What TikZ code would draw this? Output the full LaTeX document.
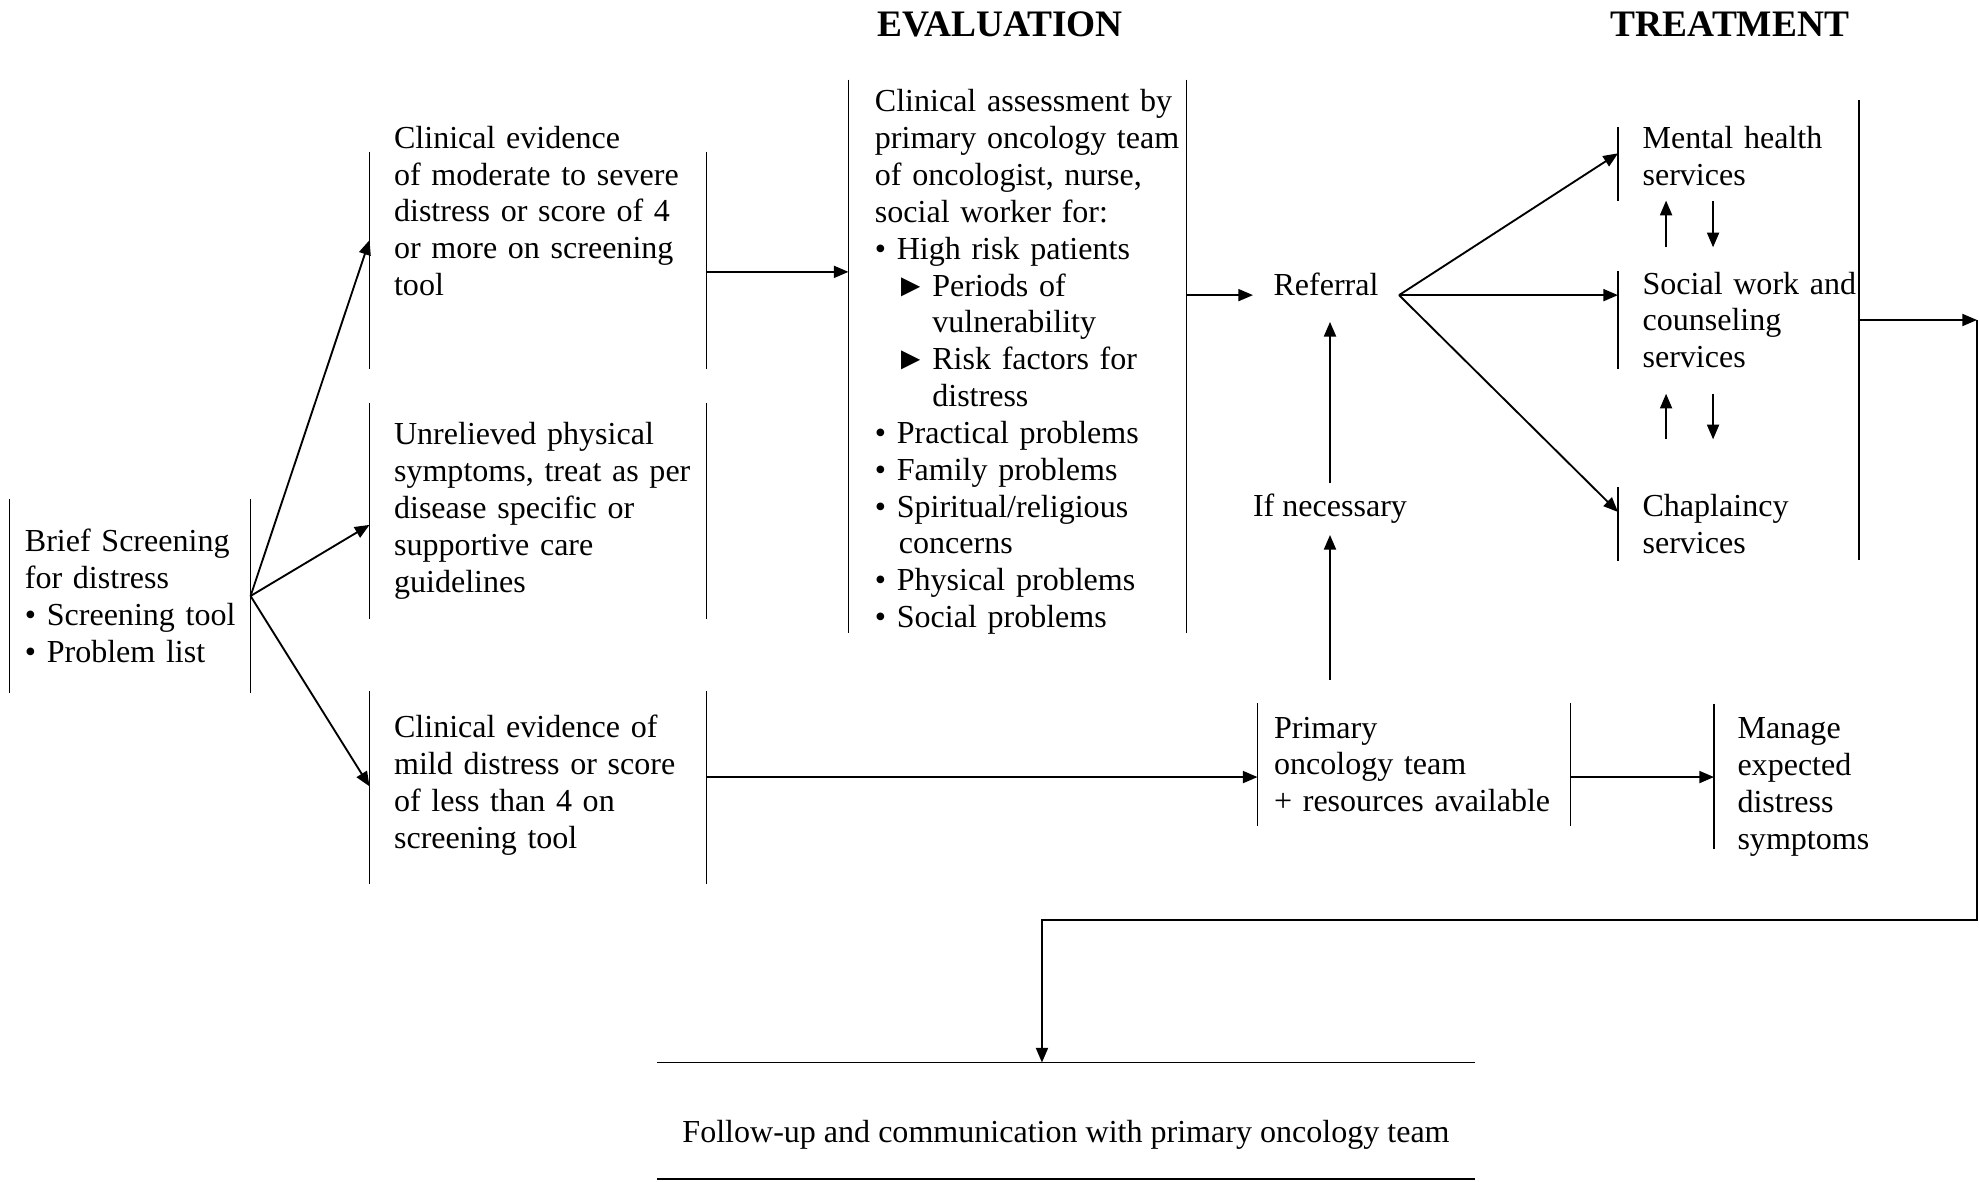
\documentclass[tikz,border=0pt]{standalone}
\usepackage{fontspec}
\setmainfont{Liberation Serif}
\usepackage{tikz}
\usetikzlibrary{arrows.meta}

\begin{document}
\begin{tikzpicture}[
  x=0.3745pt, y=-0.3745pt,
  every node/.style={font=\fontsize{12}{13.8}\selectfont, inner sep=0pt},
  barline/.style={draw, line width=0.7pt},
  arrow/.style={barline, -{Triangle[length=5.5pt, width=4.5pt]}},
  panel/.style={rectangle, align=left, execute at begin node={\leftskip=#1}},
  panel/.default=9pt,
  bars/.style={append after command={
      ([yshift=#1]\tikzlastnode.north west) edge[barline] ([yshift=#1]\tikzlastnode.south west)
      ([yshift=#1]\tikzlastnode.north east) edge[barline] ([yshift=#1]\tikzlastnode.south east)}},
  bars/.default=0pt,
  lbar/.style={append after command={
      ([yshift=#1]\tikzlastnode.north west) edge[barline] ([yshift=#1]\tikzlastnode.south west)}},
  lbar/.default=0pt,
  rbar/.style={append after command={
      (\tikzlastnode.north east) edge[barline] (\tikzlastnode.south east)}},
  hbars/.style={append after command={
      ([yshift=#1]\tikzlastnode.north west) edge[barline] ([yshift=#1]\tikzlastnode.north east)
      ([yshift=#1]\tikzlastnode.south west) edge[barline] ([yshift=#1]\tikzlastnode.south east)}},
  hbars/.default=0pt,
  heading/.style={font=\fontsize{14}{16}\selectfont\bfseries}
]
\useasboundingbox (0,0) rectangle (1979,1182);

% Title
\node[heading] (eval) at (1000,24) {EVALUATION};
\node[heading] (treat) at (1730,24) {TREATMENT};

% Screening
\node[panel=5.6pt, bars, text width=89.9pt, minimum height=71.9pt] (scr) at (130,596)
  {Brief Screening\\for distress\\• Screening tool\\• Problem list};

% Results of screening
\node[panel, bars=-18.4pt, text width=125.8pt, minimum height=80.9pt] (mod) at (538,211)
  {Clinical evidence\\of moderate to severe\\distress or score of 4\\or more on screening\\tool};
\node[panel, bars, text width=125.8pt, minimum height=80.5pt] (phys) at (538,511)
  {Unrelieved physical\\symptoms, treat as per\\disease specific or\\supportive care\\guidelines};
\node[panel, bars=-1.1pt, text width=125.8pt, minimum height=71.9pt] (mild) at (538,785)
  {Clinical evidence of\\mild distress or score\\of less than 4 on\\screening tool};

% Evaluation
\node[panel=9.7pt, bars=2.2pt, text width=126.2pt, minimum height=206.7pt] (assess) at (1017.5,362)
  {Clinical assessment by\\primary oncology team\\of oncologist, nurse,\\social worker for:\\
   • High risk patients\\
   \hspace*{7.5pt}\makebox[14pt][l]{►}Periods of\\
   \hspace*{21.5pt}vulnerability\\
   \hspace*{7.5pt}\makebox[14pt][l]{►}Risk factors for\\
   \hspace*{21.5pt}distress\\
   • Practical problems\\
   • Family problems\\
   • Spiritual/religious\\
   \hspace*{9pt}concerns\\
   • Physical problems\\
   • Social problems};
\node[inner xsep=7.5pt, inner ysep=9.7pt] (ref) at (1326,284) {Referral};
\node[inner ysep=4pt] (need) at (1330,509) {If necessary};
\node[panel=6pt, bars, text width=116.8pt, minimum height=45.3pt] (prim) at (1414,764.5)
  {Primary\\oncology team\\+ resources available};
\node[panel=8.6pt, lbar=4.1pt, text width=75pt, minimum height=53.9pt, anchor=west] (man) at (1714,787)
  {Manage\\expected\\distress\\symptoms};

% Treatment
\node[panel, lbar=-3pt, text width=89.9pt, minimum height=27pt, anchor=west] (mental) at (1618,156)
  {Mental health\\services};
\node[panel, lbar, text width=89.9pt, minimum height=36pt, anchor=west] (social) at (1618,320)
  {Social work and\\counseling\\services};
\node[panel, lbar, text width=89.9pt, minimum height=27pt, anchor=west] (chap) at (1618,524)
  {Chaplaincy\\services};
\node[rbar, minimum width=89.9pt, minimum height=172pt] (grp) at (1738,330) {};

% Follow-up
\node[hbars=5.2pt, minimum width=305.6pt, minimum height=43.1pt] (fup) at (1066,1134.5)
  {Follow-up and communication with primary oncology team};

% Arrows
\foreach \n/\dy in {mod/-10.9pt, phys/-5.2pt, mild/-0.5pt}
  \draw[arrow] (scr.east) -- ([yshift=\dy]\n.west);
\draw[arrow] ([yshift=-22.8pt]mod.east) -- ([yshift=-22.8pt]mod.east -| assess.west);
\draw[arrow] (assess.east |- ref.base) -- (ref.base west);
\draw[arrow] (ref.base east) -- ([yshift=1pt]mental.west);
\draw[arrow] (ref.base east) -- (social.west |- ref.base);
\draw[arrow] (ref.base east) -- ([yshift=4.5pt]chap.west);
\draw[arrow] (need.north) -- (need.north |- ref.south);
\coordinate (lift) at (1330,680);
\draw[arrow] (lift) -- (need.south);
\draw[arrow] ([yshift=-4.7pt]prim.west -| mild.east) -- ([yshift=-4.7pt]prim.west);
\draw[arrow] ([yshift=-4.7pt]prim.east) -- ([yshift=-4.7pt]prim.east -| man.west);

% Between services
\draw[arrow] ([xshift=18pt,yshift=9pt]social.north west) -- ([xshift=18pt,yshift=-3pt]mental.south west);
\draw[arrow] ([xshift=35.6pt,yshift=-3pt]mental.south west) -- ([xshift=35.6pt,yshift=9pt]social.north west);
\draw[arrow] ([xshift=18pt,yshift=18pt]chap.north west) -- ([xshift=18pt,yshift=-9.4pt]social.south west);
\draw[arrow] ([xshift=35.6pt,yshift=-9.4pt]social.south west) -- ([xshift=35.6pt,yshift=18pt]chap.north west);

% Back to follow-up
\coordinate (turn) at (1977,320);
\draw[arrow] (grp.east |- social.west) -- (turn);
\draw[arrow] (turn) -- ++(0,600) -| ([xshift=-9pt,yshift=5.2pt]fup.north);

\end{tikzpicture}
\end{document}
